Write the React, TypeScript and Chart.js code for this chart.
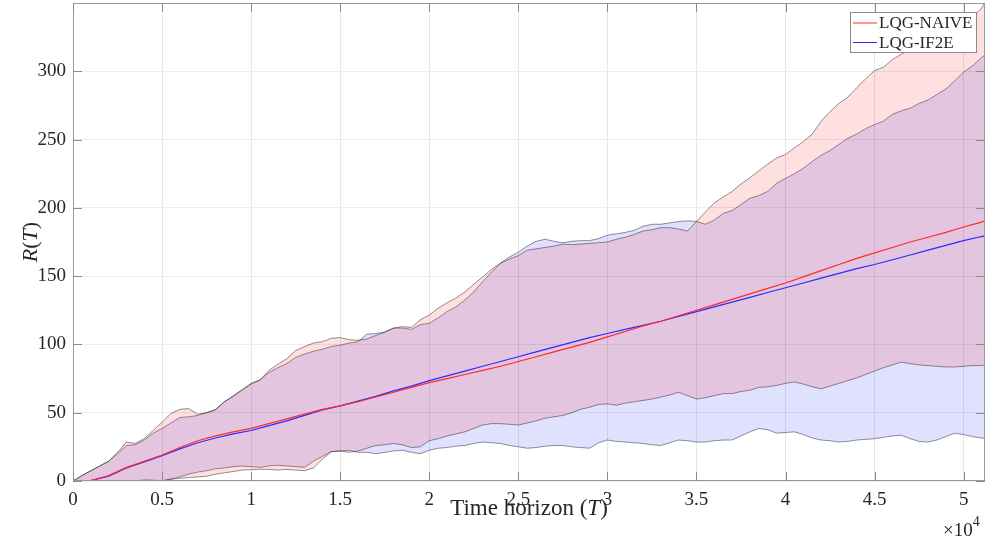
import React, { useEffect, useRef } from "react";
import { Chart, registerables } from "chart.js";

Chart.register(...registerables);

// Time grid (in thousands of steps) for the confidence bands
const BAND_T_K = [
  0, 0.5, 1, 1.5, 2, 2.5, 3, 3.5, 4, 4.5,
  5, 5.5, 6, 6.5, 7, 7.5, 8, 8.5, 9, 9.5,
  10, 10.5, 11, 11.5, 12, 12.5, 13, 13.5, 14, 14.5,
  15, 15.5, 16, 16.5, 17, 17.5, 18, 18.5, 19, 19.5,
  20, 20.5, 21, 21.5, 22, 22.5, 23, 23.5, 24, 24.5,
  25, 25.5, 26, 26.5, 27, 27.5, 28, 28.5, 29, 29.5,
  30, 30.5, 31, 31.5, 32, 32.5, 33, 33.5, 34, 34.5,
  35, 35.5, 36, 36.5, 37, 37.5, 38, 38.5, 39, 39.5,
  40, 40.5, 41, 41.5, 42, 42.5, 43, 43.5, 44, 44.5,
  45, 45.5, 46, 46.5, 47, 47.5, 48, 48.5, 49, 49.5,
  50, 50.5, 51, 51.2,
];

const NAIVE_UPPER = [
  0, 4, 7.5, 11, 14.5, 21, 28.5, 27.5, 31, 37,
  43, 49.5, 52.5, 53, 49, 50, 52.5, 58, 62.5, 67,
  71.5, 74, 81, 85.5, 89.5, 95.5, 98.5, 101, 102, 104.5,
  105, 103.5, 103, 104, 106.5, 109, 112, 113, 112.5, 118,
  121.5, 126.5, 130.5, 134, 138.5, 144, 149.5, 155, 159.5, 162.5,
  165, 169, 170, 171, 172, 173.5, 173, 173.5, 174, 174.5,
  175, 177, 178.5, 180.5, 183, 184, 185.5, 185.5, 184.5, 183,
  190, 197, 203.5, 208, 212, 217.5, 222, 227, 232, 236.5,
  239, 244, 248.5, 254, 263.5, 270.5, 276.5, 281, 288, 294.5,
  300.5, 303, 308.5, 312.5, 316, 320.5, 325, 328, 331, 334,
  337, 340, 346, 351,
];

const NAIVE_LOWER = [
  0, 0, 0, 0, 0, 0, 0, 0, 0.8, 0.6,
  0.3, 1.2, 2, 2.5, 3, 3.5, 5, 6, 7, 8,
  8.3, 8.6, 8.5, 8, 8.5, 8, 7.5, 9.5, 16, 21.5,
  22, 21, 22, 24, 26, 26.5, 27.5, 26.5, 24.5, 25,
  29.5, 31, 33, 34.5, 36, 38.5, 41, 42, 42, 41.5,
  41, 42.5, 44, 46, 47, 48, 50, 52.5, 54, 56,
  56.5, 55.5, 57, 58, 59, 60, 61.5, 63, 65, 62.5,
  60, 61, 62.5, 64, 64, 65.5, 66.5, 68.5, 69, 70,
  71.5, 72.5, 71, 69, 67.5, 69.5, 71.5, 73.5, 75.5, 78,
  80.5, 83, 85, 87, 86, 85, 84.5, 84, 83.5, 83.5,
  84, 84.5, 84.5, 85,
];

const IF2E_UPPER = [
  0, 4, 7.5, 11, 14.5, 20, 26, 26.5, 30, 35,
  38.5, 42.5, 46.5, 47, 48, 50, 52, 58, 62, 66.5,
  71, 74, 79.5, 83, 86, 90.5, 93, 95, 96.5, 98.5,
  99.5, 101, 102, 107.5, 108, 109, 112, 112, 111, 114.5,
  115.5, 119.5, 124, 127.5, 132.5, 138.5, 146, 153, 159.5, 164,
  167.5, 172, 175.5, 177, 175.5, 174.5, 175.5, 176, 176, 177.5,
  180, 181, 182, 183.5, 186.5, 188, 188, 189, 190, 190.5,
  190, 188, 191, 196, 198, 202.5, 207, 209, 212, 218,
  221.5, 225, 229, 234, 238.5, 242, 246.5, 251, 254, 258,
  261, 263.5, 268.5, 271, 273, 276.5, 279, 283, 287, 293,
  299.5, 304, 310, 312,
];

const IF2E_LOWER = [
  0, 0, 0, 0, 0, 0, 0, 0, 0, 0,
  0, 1.5, 3, 5, 6.5, 7.5, 9, 9.5, 10.5, 11,
  10.5, 10, 11, 11.5, 11, 10.5, 10, 14.5, 18, 21.5,
  22, 22.5, 21, 21, 20, 21, 22, 22.5, 21, 20,
  22.5, 24, 24.5, 25.5, 26, 27.5, 28.5, 28, 27.5, 26,
  25, 24, 24.5, 25.5, 26, 26, 25, 24.5, 24, 28,
  30, 29, 28.5, 28, 27.5, 26.5, 26, 28, 30, 29.5,
  28.5, 28.5, 29.5, 30, 30, 33, 36, 38.5, 37.5, 35,
  35.5, 36, 34, 31.5, 30, 29.5, 28.5, 29, 30, 30.5,
  31, 32, 33, 33.5, 31, 29, 28.5, 30, 32.5, 35,
  34, 32.5, 31.5, 31,
];

// Mean regret curves
const MEAN_T_K = [
  0, 1, 2, 3, 4, 5, 6, 7, 8, 9,
  10, 11, 12, 13, 14, 15, 16, 17, 18, 19,
  20, 21, 22, 23, 24, 25, 26, 27, 28, 29,
  30, 31, 32, 33, 34, 35, 36, 37, 38, 39,
  40, 41, 42, 43, 44, 45, 46, 47, 48, 49,
  50, 51, 51.2,
];

const NAIVE_MEAN = [
  0, 0.3, 4, 10, 14.5, 19, 24.5, 29.5, 33, 36,
  38.5, 42, 45.5, 49, 52.5, 55, 58, 61.5, 65, 68.5,
  72, 75, 78, 81, 84, 87.5, 91, 94.5, 98, 101.5,
  105.5, 109.5, 113.5, 117, 121, 125, 129, 133, 137, 141,
  145, 149.5, 154, 158.5, 163, 167, 171, 175, 178.5, 182,
  186, 189.5, 190.5,
];

const IF2E_MEAN = [
  0, 0.3, 3.5, 9.5, 14, 18.5, 23.5, 28, 31.5, 34.5,
  37, 40.5, 44, 48, 52, 55, 58.5, 62, 66, 69.5,
  73.5, 77, 80.5, 84, 87.5, 91, 94.5, 98, 101.5, 105,
  108, 111, 114, 117, 120.5, 124, 127.5, 131, 134.5, 138,
  141.5, 145, 148.5, 152, 155.5, 158.5, 162, 165.5, 169, 172.5,
  176, 179, 179.5,
];

const X_TICKS = [0, 0.5, 1, 1.5, 2, 2.5, 3, 3.5, 4, 4.5, 5]; // ×10^4
const Y_TICKS = [0, 50, 100, 150, 200, 250, 300];
const SERIES_NAMES = ["LQG-NAIVE", "LQG-IF2E"];
const SERIES_COLORS = ["#ff2a2a", "#2a2aff"];

const X_MAX = 51200;
const Y_MAX = 350;

const FONT = '"Liberation Serif", "Times New Roman", serif';
const TEXT_COLOR = "#262626";

function pts(tk: number[], vals: number[]) {
  return tk.map((t, i) => ({ x: t * 1000, y: vals[i] }));
}

type Part = { t: string; italic?: boolean };

function drawRich(ctx: CanvasRenderingContext2D, parts: Part[], size: number, cx: number, cy: number) {
  const fonts = parts.map((p) => `${p.italic ? "italic " : ""}${size}px ${FONT}`);
  let total = 0;
  const widths = parts.map((p, i) => {
    ctx.font = fonts[i];
    const w = ctx.measureText(p.t).width;
    total += w;
    return w;
  });
  let x = cx - total / 2;
  ctx.textBaseline = "middle";
  ctx.textAlign = "left";
  parts.forEach((p, i) => {
    ctx.font = fonts[i];
    ctx.fillText(p.t, x, cy);
    x += widths[i];
  });
}

const decorPlugin = {
  id: "decor",
  afterDraw(chart: any) {
    const { ctx, chartArea: a, scales } = chart;
    const xs = scales.x;
    const ys = scales.y;
    ctx.save();

    // axes box
    ctx.strokeStyle = "#9a9a9a";
    ctx.lineWidth = 1;
    ctx.strokeRect(a.left + 0.5, a.top + 0.5, a.right - a.left - 1, a.bottom - a.top - 1);

    // inward ticks on all four sides
    const TL = 9;
    ctx.strokeStyle = "#8a8a8a";
    ctx.beginPath();
    X_TICKS.forEach((v) => {
      const px = Math.round(xs.getPixelForValue(v * 10000)) + 0.5;
      ctx.moveTo(px, a.bottom);
      ctx.lineTo(px, a.bottom - TL);
      ctx.moveTo(px, a.top);
      ctx.lineTo(px, a.top + TL);
    });
    Y_TICKS.forEach((v) => {
      const py = Math.round(ys.getPixelForValue(v)) + 0.5;
      ctx.moveTo(a.left, py);
      ctx.lineTo(a.left + TL, py);
      ctx.moveTo(a.right, py);
      ctx.lineTo(a.right - TL, py);
    });
    ctx.stroke();

    // legend
    const lx = 850, ly = 12, lw = 127, lh = 41;
    ctx.fillStyle = "#ffffff";
    ctx.fillRect(lx, ly, lw, lh);
    ctx.strokeStyle = "#8a8a8a";
    ctx.lineWidth = 1;
    ctx.strokeRect(lx + 0.5, ly + 0.5, lw - 1, lh - 1);
    SERIES_NAMES.forEach((name, i) => {
      const yy = ly + 11 + i * 19.5;
      ctx.strokeStyle = SERIES_COLORS[i];
      ctx.lineWidth = 1;
      ctx.beginPath();
      ctx.moveTo(lx + 3, yy);
      ctx.lineTo(lx + 27, yy);
      ctx.stroke();
      ctx.fillStyle = TEXT_COLOR;
      ctx.font = `17px ${FONT}`;
      ctx.textAlign = "left";
      ctx.textBaseline = "middle";
      ctx.fillText(name, lx + 29, yy + 1);
    });

    // axis titles
    ctx.fillStyle = TEXT_COLOR;
    drawRich(
      ctx,
      [{ t: "Time horizon (" }, { t: "T", italic: true }, { t: ")" }],
      23,
      (a.left + a.right) / 2,
      509
    );
    ctx.save();
    ctx.translate(31, (a.top + a.bottom) / 2);
    ctx.rotate(-Math.PI / 2);
    drawRich(ctx, [{ t: "R", italic: true }, { t: "(" }, { t: "T", italic: true }, { t: ")" }], 22, 0, 0);
    ctx.restore();

    // exponent label
    ctx.textAlign = "left";
    ctx.textBaseline = "alphabetic";
    ctx.font = `19px ${FONT}`;
    ctx.fillText("×10", 943, 536);
    const w10 = ctx.measureText("×10").width;
    ctx.font = `14px ${FONT}`;
    ctx.fillText("4", 943 + w10, 526);

    ctx.restore();
  },
};

export default function App() {
  const ref = useRef<HTMLCanvasElement | null>(null);

  useEffect(() => {
    document.body.style.margin = "0";
    const canvas = ref.current;
    if (!canvas) return;
    const edge = {
      borderColor: "rgba(0,0,0,0.72)",
      borderWidth: 0.6,
      pointRadius: 0,
    };
    const chart = new Chart(canvas, {
      type: "line",
      data: {
        datasets: [
          {
            label: SERIES_NAMES[0],
            data: pts(MEAN_T_K, NAIVE_MEAN),
            borderColor: SERIES_COLORS[0],
            borderWidth: 1.2,
            pointRadius: 0,
            fill: false,
          },
          {
            label: SERIES_NAMES[1],
            data: pts(MEAN_T_K, IF2E_MEAN),
            borderColor: SERIES_COLORS[1],
            borderWidth: 1.2,
            pointRadius: 0,
            fill: false,
          },
          {
            label: "naive-upper",
            data: pts(BAND_T_K, NAIVE_UPPER),
            ...edge,
            backgroundColor: "rgba(255,0,0,0.12)",
            fill: "+1",
          },
          {
            label: "naive-lower",
            data: pts(BAND_T_K, NAIVE_LOWER),
            ...edge,
            fill: false,
          },
          {
            label: "if2e-upper",
            data: pts(BAND_T_K, IF2E_UPPER),
            ...edge,
            backgroundColor: "rgba(0,0,255,0.12)",
            fill: "+1",
          },
          {
            label: "if2e-lower",
            data: pts(BAND_T_K, IF2E_LOWER),
            ...edge,
            fill: false,
          },
        ],
      },
      options: {
        animation: false,
        responsive: false,
        devicePixelRatio: 1,
        layout: { padding: { top: 3, right: 2, left: 0, bottom: 0 } },
        plugins: {
          legend: { display: false },
          tooltip: { enabled: false },
        },
        elements: { line: { tension: 0 }, point: { radius: 0 } },
        scales: {
          x: {
            type: "linear",
            min: 0,
            max: X_MAX,
            afterFit: (s: any) => {
              s.height = 62;
              s.paddingLeft = 0;
              s.paddingRight = 0;
            },
            afterBuildTicks: (s: any) => {
              s.ticks = X_TICKS.map((v) => ({ value: v * 10000 }));
            },
            ticks: {
              callback: (v: any) => String(Math.round((Number(v) / 10000) * 10) / 10),
              font: { family: FONT, size: 19 },
              color: TEXT_COLOR,
              padding: 8,
              maxRotation: 0,
              autoSkip: false,
            },
            grid: { color: "#e6e6e6", drawTicks: false, lineWidth: 1 },
            border: { display: false },
          },
          y: {
            type: "linear",
            min: 0,
            max: Y_MAX,
            afterFit: (s: any) => {
              s.width = 73;
              s.paddingTop = 0;
              s.paddingBottom = 0;
            },
            afterBuildTicks: (s: any) => {
              s.ticks = Y_TICKS.map((v) => ({ value: v }));
            },
            ticks: {
              font: { family: FONT, size: 19 },
              color: TEXT_COLOR,
              padding: 7,
              autoSkip: false,
            },
            grid: { color: "#ececec", drawTicks: false, lineWidth: 1 },
            border: { display: false },
          },
        },
      },
      plugins: [decorPlugin],
    } as any);
    return () => chart.destroy();
  }, []);

  return (
    <div style={{ width: 987, height: 543, position: "relative" }}>
      <canvas ref={ref} width={987} height={543} style={{ display: "block" }} />
    </div>
  );
}
